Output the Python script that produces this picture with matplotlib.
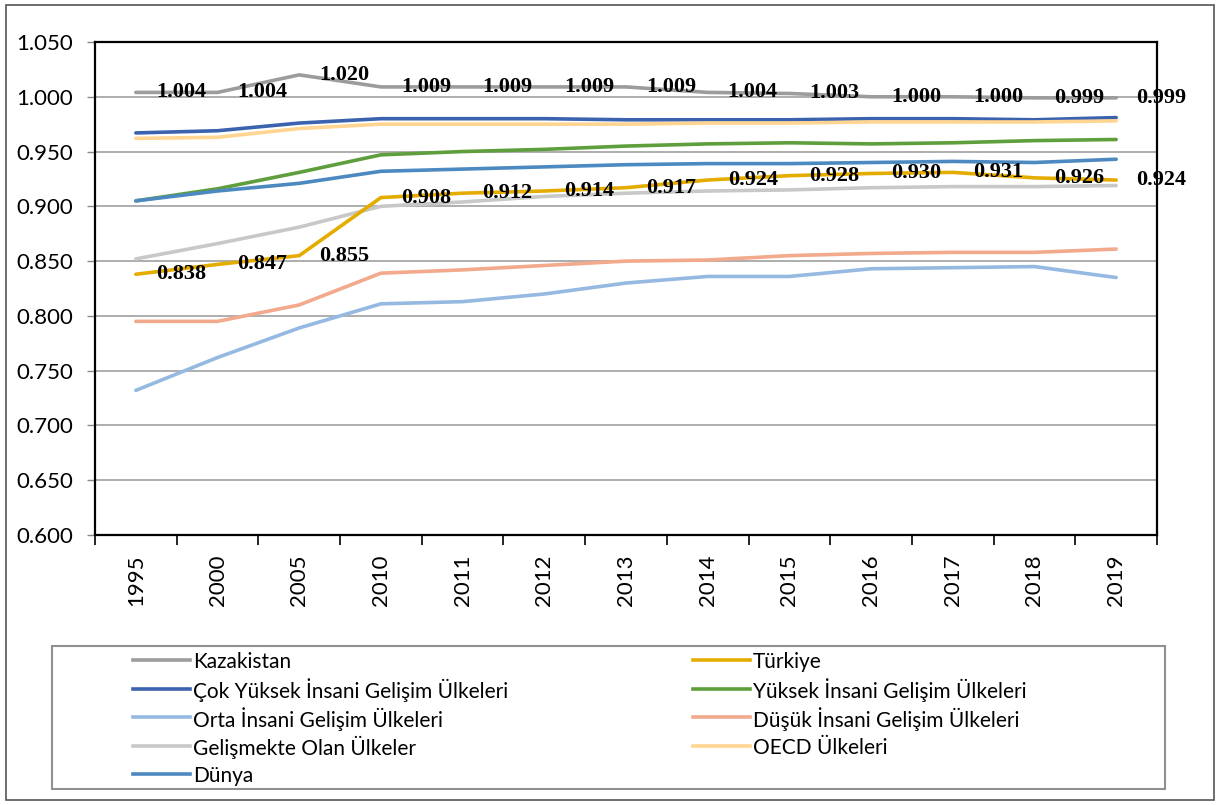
import numpy as np
import matplotlib.pyplot as plt
from matplotlib.patches import Rectangle
from matplotlib.lines import Line2D

# data
years = ["1995", "2000", "2005", "2010", "2011", "2012", "2013",
         "2014", "2015", "2016", "2017", "2018", "2019"]

kazakistan = [1.004, 1.004, 1.020, 1.009, 1.009, 1.009, 1.009,
              1.004, 1.003, 1.000, 1.000, 0.999, 0.999]
turkiye = [0.838, 0.847, 0.855, 0.908, 0.912, 0.914, 0.917,
           0.924, 0.928, 0.930, 0.931, 0.926, 0.924]
cok_yuksek = [0.967, 0.969, 0.976, 0.980, 0.980, 0.980, 0.979,
              0.979, 0.979, 0.980, 0.980, 0.979, 0.981]
yuksek = [0.905, 0.916, 0.931, 0.947, 0.950, 0.952, 0.955,
          0.957, 0.958, 0.957, 0.958, 0.960, 0.961]
orta = [0.732, 0.762, 0.789, 0.811, 0.813, 0.820, 0.830,
        0.836, 0.836, 0.843, 0.844, 0.845, 0.835]
dusuk = [0.795, 0.795, 0.810, 0.839, 0.842, 0.846, 0.850,
         0.851, 0.855, 0.857, 0.858, 0.858, 0.861]
gelismekte = [0.852, 0.866, 0.881, 0.900, 0.904, 0.909, 0.912,
              0.914, 0.915, 0.917, 0.918, 0.918, 0.919]
oecd = [0.962, 0.963, 0.971, 0.975, 0.975, 0.975, 0.975,
        0.976, 0.976, 0.977, 0.977, 0.977, 0.978]
dunya = [0.905, 0.914, 0.921, 0.932, 0.934, 0.936, 0.938,
         0.939, 0.939, 0.940, 0.941, 0.940, 0.943]

series = [
    ("Kazakistan", kazakistan, "#9C9C9C", 5),
    ("Türkiye", turkiye, "#E5AC00", 5),
    ("Çok Yüksek İnsani Gelişim Ülkeleri", cok_yuksek, "#3B62AE", 3),
    ("Yüksek İnsani Gelişim Ülkeleri", yuksek, "#5F9E3C", 3),
    ("Orta İnsani Gelişim Ülkeleri", orta, "#95B9E1", 3),
    ("Düşük İnsani Gelişim Ülkeleri", dusuk, "#F2A98C", 3),
    ("Gelişmekte Olan Ülkeler", gelismekte, "#C8C8C8", 3),
    ("OECD Ülkeleri", oecd, "#FFD591", 3),
    ("Dünya", dunya, "#4D89C1", 3),
]

labelled = [kazakistan, turkiye]

W, H = 1224, 805
fig = plt.figure(figsize=(W / 100, H / 100), dpi=100)
ax = fig.add_axes([95 / W, 1 - 535 / H, (1157 - 95) / W, (535 - 42) / H])

x = np.arange(len(years))
for name, vals, color, z in series:
    ax.plot(x, vals, color=color, lw=2.6, zorder=z, solid_capstyle="round")

for vals in labelled:
    for xi, v in zip(x, vals):
        ax.annotate(f"{v:.3f}", (xi, v), xytext=(20, 0),
                    textcoords="offset pixels", ha="left", va="center",
                    fontsize=16, fontweight="bold",
                    family="Liberation Serif", zorder=10,
                    annotation_clip=False)

yt = np.arange(0.6, 1.0501, 0.05)
ax.set_xlim(-0.5, len(years) - 0.5)
ax.set_ylim(0.6, 1.05)
ax.set_yticks(yt)
ax.set_yticklabels([f"{t:.3f}" for t in yt], family="Lato", fontsize=16)
ax.set_xticks(x)
ax.set_xticklabels(years, rotation=90, family="Lato", fontsize=16)
ax.set_xticks(np.arange(-0.5, len(years)), minor=True)
ax.tick_params(axis="x", which="major", length=0, pad=14)
ax.tick_params(axis="x", which="minor", length=7, width=1.2, direction="out")
ax.tick_params(axis="y", length=6, width=1, color="#888888", pad=10)
ax.grid(axis="y", color="#A0A0A0", lw=1.2)
ax.set_axisbelow(True)
for sp in ax.spines.values():
    sp.set_color("black")
    sp.set_linewidth(1.6)

# legend box: two columns, rows read left to right like the reference
fig.patches.append(Rectangle((52 / W, 1 - 789 / H), (1165 - 52) / W,
                             (789 - 646) / H, transform=fig.transFigure,
                             fill=False, edgecolor="#909090", lw=1.5))
row_y = [660, 688.5, 717, 745.5, 774]
col_x = [133, 693]
for i, (name, vals, color, z) in enumerate(series):
    r, c = divmod(i, 2)
    y = 1 - row_y[r] / H
    x0 = col_x[c]
    fig.add_artist(Line2D([x0 / W, (x0 + 57) / W], [y, y], color=color,
                          lw=2.6, transform=fig.transFigure))
    fig.text((x0 + 60) / W, y, name, ha="left", va="center_baseline",
             family="Lato", fontsize=15)

# outer border around the whole chart
fig.patches.append(Rectangle((6 / W, 5 / H), (1214 - 6) / W, (800 - 5) / H,
                             transform=fig.transFigure, fill=False,
                             edgecolor="#555555", lw=1.2))

fig.savefig("out.png", dpi=100)
